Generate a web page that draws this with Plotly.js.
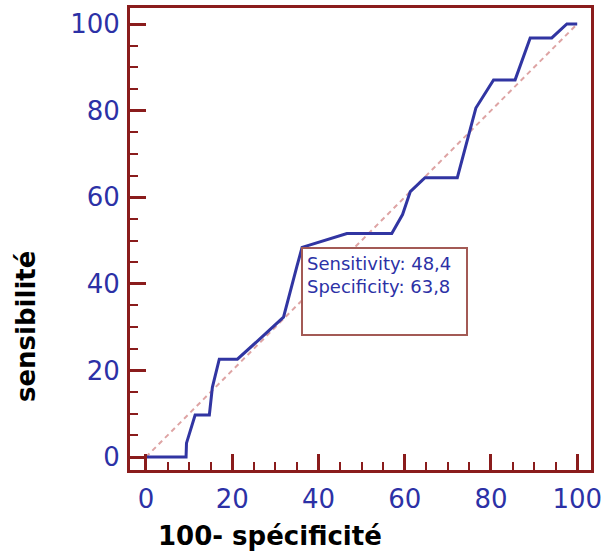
<!DOCTYPE html>
<html>
<head>
<meta charset="utf-8">
<script src="https://cdn.plot.ly/plotly-3.0.1.min.js"></script>
<style>
  html, body { margin: 0; padding: 0; background: #ffffff; }
  #chart { width: 604px; height: 554px; }
</style>
</head>
<body>
<div id="chart"></div>
<script>
// ROC curve: 100 - specificity (x) against sensitivity (y)
const falsePositiveRate = [0, 9.3, 9.4, 11.4, 14.7, 15.4, 17.0, 21.2, 26.1, 31.9, 35.0, 36.2, 46.6, 57.0, 59.5, 61.3, 64.7, 72.2, 76.5, 80.6, 85.6, 89.1, 94.1, 97.6, 100];
const sensitivity       = [0, 0,   3.2,  9.7,  9.7, 16.1, 22.6, 22.6, 27.0, 32.3, 44.0, 48.4, 51.6, 51.6, 56.0, 61.3, 64.5, 64.5, 80.6, 87.1, 87.1, 96.8, 96.8, 100, 100];

// Chance line
const chanceX = [0, 100];
const chanceY = [0, 100];

// Selected cut-off point
const cutSensitivity = "48,4";
const cutSpecificity = "63,8";

const tickValues = [0, 20, 40, 60, 80, 100];

const frameColor = "#8a1c1c";
const labelBlue = "#2c31a6";
const textFont = "DejaVu Sans, sans-serif";

const traces = [
  {
    x: chanceX, y: chanceY,
    mode: "lines",
    line: { color: "#dea4a4", width: 2, dash: "5px,4px" },
    hoverinfo: "skip"
  },
  {
    x: falsePositiveRate, y: sensitivity,
    mode: "lines",
    line: { color: "#3135a2", width: 3 },
    hoverinfo: "skip"
  }
];

function axis(range) {
  return {
    range: range,
    tickvals: tickValues,
    ticks: "inside",
    ticklen: 16,
    tickwidth: 3,
    tickcolor: frameColor,
    minor: { dtick: 5, ticks: "inside", ticklen: 8, tickwidth: 2, tickcolor: frameColor },
    showline: true,
    linecolor: frameColor,
    linewidth: 3,
    mirror: true,
    showgrid: false,
    zeroline: false,
    tickfont: { family: textFont, size: 26, color: labelBlue }
  };
}

const layout = {
  width: 604,
  height: 554,
  margin: { l: 130, r: 13, t: 8, b: 84 },
  paper_bgcolor: "#ffffff",
  plot_bgcolor: "#ffffff",
  showlegend: false,
  xaxis: Object.assign(axis([-3.7, 103.2]), { ticklabelstandoff: 4 }),
  yaxis: Object.assign(axis([-3.0, 103.7]), { ticklabelstandoff: 2 }),
  annotations: [
    {
      xref: "paper", yref: "paper",
      x: 0.304, y: -0.143,
      xanchor: "center", yanchor: "middle",
      text: "<b>100- spécificité</b>",
      showarrow: false,
      font: { family: textFont, size: 26, color: "#000000" }
    },
    {
      xref: "paper", yref: "paper",
      x: -0.225, y: 0.31,
      xanchor: "center", yanchor: "middle",
      text: "<b>sensibilité</b>",
      textangle: -90,
      showarrow: false,
      font: { family: textFont, size: 26, color: "#000000" }
    },
    {
      xref: "paper", yref: "paper",
      x: 0.371, y: 0.482,
      xanchor: "left", yanchor: "top",
      width: 155, height: 77,
      align: "left", valign: "top",
      text: "Sensitivity: " + cutSensitivity + "<br>Specificity: " + cutSpecificity,
      showarrow: false,
      bgcolor: "#ffffff",
      bordercolor: "#a35a55",
      borderwidth: 2,
      borderpad: 4,
      font: { family: textFont, size: 18, color: labelBlue }
    }
  ]
};

Plotly.newPlot("chart", traces, layout, { staticPlot: true, displayModeBar: false });
</script>
</body>
</html>
